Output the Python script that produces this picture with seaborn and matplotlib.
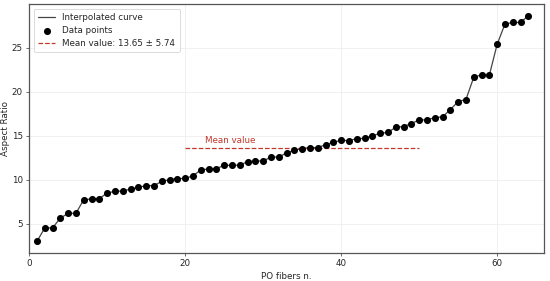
import numpy as np
import pandas as pd
import matplotlib
matplotlib.use("Agg")
import matplotlib.pyplot as plt
import seaborn as sns

# aspect ratio of each PO fiber (sorted)
fiber_n = list(range(1, 65))
aspect_ratio = [3.02, 4.55, 4.55, 5.68, 6.20, 6.22, 7.76, 7.84, 7.88, 8.52,
                8.70, 8.74, 8.97, 9.16, 9.35, 9.35, 9.84, 10.03, 10.16, 10.17,
                10.47, 11.13, 11.25, 11.29, 11.66, 11.66, 11.68, 12.08, 12.15, 12.15,
                12.60, 12.60, 13.07, 13.37, 13.56, 13.67, 13.67, 14.00, 14.27, 14.50,
                14.46, 14.69, 14.72, 15.03, 15.28, 15.41, 15.98, 16.06, 16.40, 16.82,
                16.82, 17.08, 17.16, 17.99, 18.90, 19.13, 21.66, 21.93, 21.90, 25.40,
                27.70, 27.88, 27.88, 28.65]
mean_val = 13.65
std_val = 5.74
mean_x = [20, 50]

df = pd.DataFrame({'PO fibers n.': fiber_n, 'Aspect Ratio': aspect_ratio})

sns.set_style('whitegrid')
plt.rcParams['font.family'] = ['DejaVu Sans']
fs = 6.3

fig = plt.figure(figsize=(5.5, 2.81), dpi=100)
ax = fig.add_axes([0.053, 0.101, 0.936, 0.884])

sns.lineplot(data=df, x='PO fibers n.', y='Aspect Ratio', color='#444444',
             linewidth=0.9, label='Interpolated curve', ax=ax)
sns.scatterplot(data=df, x='PO fibers n.', y='Aspect Ratio', color='black',
                s=26, edgecolor='black', linewidth=0, label='Data points', ax=ax, zorder=3)
ax.plot(mean_x, [mean_val, mean_val], color='#c0392b', linestyle='--', linewidth=0.9,
        label=f'Mean value: {mean_val:.2f} ± {std_val:.2f}')
ax.text(22.5, mean_val + 0.35, 'Mean value', color='#c0392b', fontsize=fs, va='bottom')

ax.set_xlim(0, 66)
ax.set_ylim(1.75, 29.95)
ax.set_xticks([0, 20, 40, 60])
ax.set_yticks([5, 10, 15, 20, 25])
ax.set_xlabel('PO fibers n.', fontsize=fs, labelpad=3)
ax.set_ylabel('Aspect Ratio', fontsize=fs, labelpad=1)
ax.tick_params(labelsize=fs, length=2.5, width=0.6, pad=2, left=True, bottom=True, color='#555555')
ax.grid(True, color='#eeeeee', linewidth=0.6)
for s in ax.spines.values():
    s.set_color('#555555')
    s.set_linewidth(0.9)

leg = ax.legend(loc='upper left', fontsize=fs, frameon=True, borderpad=0.5,
                handlelength=2.0, labelspacing=0.45)
leg.get_frame().set_edgecolor('#cccccc')
leg.get_frame().set_linewidth(0.6)

fig.savefig('out.png', dpi=100)
